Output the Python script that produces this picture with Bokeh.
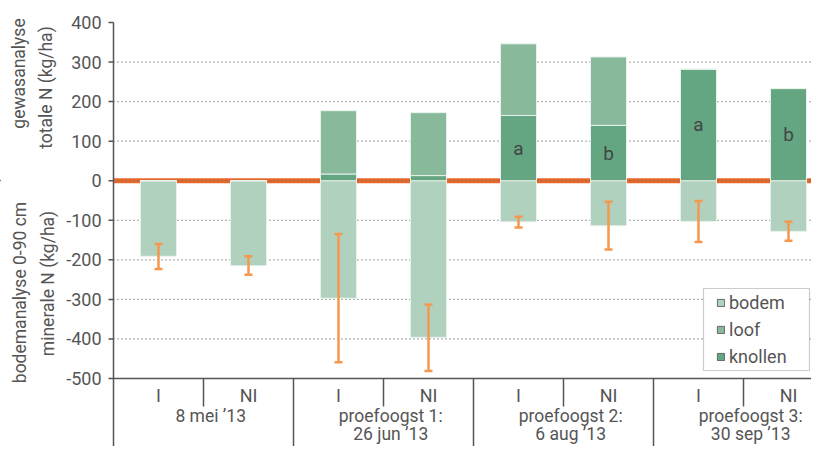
import math
from bokeh.plotting import figure
from bokeh.models import (ColumnDataSource, Range1d, Whisker, TeeHead,
                          Legend, LegendItem, BoxAnnotation)
from bokeh.core.properties import value
from bokeh.embed import file_html
from bokeh.resources import INLINE

# ---- data ----
treatments = ["I", "NI", "I", "NI", "I", "NI", "I", "NI"]
group_line1 = ["8 mei \u201913", "proefoogst 1:", "proefoogst 2:", "proefoogst 3:"]
group_line2 = ["", "26 jun \u201913", "6 aug \u201913", "30 sep \u201913"]
bodem = [191, 215, 297, 396, 104, 114, 103, 128]
loof = [0, 0, 160, 159, 181, 173, 0, 0]
knollen = [0, 0, 17, 13, 165, 140, 282, 233]
err_upper = [-160, -191, -135, -313, -91, -53, -51, -104]
err_lower = [-223, -238, -459, -481, -118, -174, -155, -152]
letters = ["", "", "", "", "a", "b", "a", "b"]
y_ticks = [-500, -400, -300, -200, -100, 0, 100, 200, 300, 400]
y_titles = ["gewasanalyse", "totale N (kg/ha)", "bodemanalyse 0-90 cm", "minerale N (kg/ha)"]

FONT = "Roboto"
TXT = "#555555"
AX = "#555555"

# ---- geometry (pixels) ----
W, H = 811, 446
x0_px = 113          # pixel of the value axis
cat_px = 90          # pixel width of one category
y_top_px, y_bot_px = 22, 378   # pixels of 400 and -500
ppu = (y_bot_px - y_top_px) / 900.0
zero_px = y_top_px + 400 * ppu

def yv(px):
    return (zero_px - px) / ppu

x_start = -x0_px / cat_px
x_end = (W - x0_px) / cat_px
y_end = 400 + y_top_px / ppu
y_start = 400 - (H - y_top_px) / ppu

n = len(treatments)
xc = [i + 0.5 for i in range(n)]
src = ColumnDataSource(dict(
    x=xc,
    bodem_bottom=[-b for b in bodem],
    zero=[0] * n,
    knol_top=knollen,
    loof_top=[k + l for k, l in zip(knollen, loof)],
    up=err_upper, lo=err_lower,
    letter=letters,
    letter_y=[k / 2 for k in knollen],
))

p = figure(width=W, height=H, output_backend="svg", toolbar_location=None,
           x_range=Range1d(x_start, x_end), y_range=Range1d(y_start, y_end),
           x_axis_location=None, y_axis_location=None, min_border=0)
p.outline_line_color = None
p.grid.visible = False

# zero line (orange, under the grid)
p.segment(x0=[0], x1=[x_end], y0=[0], y1=[0], line_color="#e8682a", line_width=5)

# dotted grid
grid_ticks = [t for t in y_ticks if -500 < t < 400]
p.segment(x0=[0] * len(grid_ticks), x1=[x_end] * len(grid_ticks), y0=grid_ticks, y1=grid_ticks,
          line_color="#666666", line_dash="1 3", line_width=1.3)

# bars
c_bodem, c_loof, c_knol = "#b0d1bd", "#88b99b", "#64a682"
edge = "#e8f2ec"
p.vbar(x="x", top="zero", bottom="bodem_bottom", width=0.4, source=src,
       fill_color=c_bodem, line_color=edge, line_width=1)
p.vbar(x="x", top="knol_top", bottom="zero", width=0.4, source=src,
       fill_color=c_knol, line_color=edge, line_width=1)
p.vbar(x="x", top="loof_top", bottom="knol_top", width=0.4, source=src,
       fill_color=c_loof, line_color=edge, line_width=1)

# error bars (on top of the bars)
ec = "#f5984f"
p.add_layout(Whisker(source=src, base="x", upper="up", lower="lo",
                     line_color=ec, line_width=2.5, level="overlay",
                     upper_head=TeeHead(size=8, line_color=ec, line_width=2.5),
                     lower_head=TeeHead(size=8, line_color=ec, line_width=2.5)))

# significance letters
p.text(x="x", y="letter_y", text="letter", source=src, text_align="center",
       text_baseline="middle", text_font=value(FONT), text_font_size="19px",
       text_color="#444444")

# value axis (drawn)
p.segment(x0=[0], x1=[0], y0=[y_start], y1=[400], line_color=AX, line_width=1.5)
p.segment(x0=[0] * len(y_ticks), x1=[-5 / cat_px] * len(y_ticks), y0=y_ticks, y1=y_ticks,
          line_color=AX, line_width=1.5)
p.text(x=[0] * len(y_ticks), y=y_ticks, text=[str(t) for t in y_ticks], x_offset=-12,
       text_align="right", text_baseline="middle", text_font=value(FONT),
       text_font_size="18px", text_color=TXT)

# y titles
p.text(x=[(18.5 - x0_px) / cat_px, (45 - x0_px) / cat_px,
          (19.5 - x0_px) / cat_px, (47 - x0_px) / cat_px],
       y=[yv(73), yv(87), yv(292), yv(283)], text=y_titles,
       angle=math.pi / 2, text_align="center", text_baseline="middle",
       text_font=value(FONT), text_font_size="17.5px", text_color=TXT)

# category axis (drawn)
p.segment(x0=[0], x1=[x_end], y0=[-500], y1=[-500], line_color=AX, line_width=1.5)
p.text(x=xc, y=[yv(395)] * n, text=treatments, text_align="center",
       text_baseline="middle", text_font=value(FONT), text_font_size="18px",
       text_color=TXT)
gx = [2 * g + 1 + 0.08 for g in range(len(group_line1))]
p.text(x=gx, y=[yv(415)] * len(gx), text=group_line1, text_align="center",
       text_baseline="middle", text_font=value(FONT), text_font_size="17.5px",
       text_color=TXT)
p.text(x=gx, y=[yv(433)] * len(gx), text=group_line2, text_align="center",
       text_baseline="middle", text_font=value(FONT), text_font_size="17.5px",
       text_color=TXT)
sub_sep = [2 * g + 1 for g in range(len(group_line1))]
p.segment(x0=sub_sep, x1=sub_sep, y0=[-500] * len(sub_sep), y1=[yv(406)] * len(sub_sep),
          line_color=AX, line_width=1.5)
grp_sep = [2 * g for g in range(1, len(group_line1))]
p.segment(x0=grp_sep, x1=grp_sep, y0=[-500] * len(grp_sep), y1=[y_start] * len(grp_sep),
          line_color=AX, line_width=1.5)

# legend
box = BoxAnnotation(left=703, right=809, bottom=H - 370, top=H - 288,
                    left_units="screen", right_units="screen",
                    bottom_units="screen", top_units="screen",
                    fill_color="white", fill_alpha=1, line_color="#555555",
                    line_width=1.2, level="glyph")
p.add_layout(box)
r_b = p.vbar(x=[-50], top=[1], width=0.4, fill_color=c_bodem, line_color="#666666")
r_l = p.vbar(x=[-50], top=[1], width=0.4, fill_color=c_loof, line_color="#666666")
r_k = p.vbar(x=[-50], top=[1], width=0.4, fill_color=c_knol, line_color="#666666")
leg = Legend(items=[LegendItem(label="bodem", renderers=[r_b]),
                    LegendItem(label="loof", renderers=[r_l]),
                    LegendItem(label="knollen", renderers=[r_k])],
             location=(712, H - 371), orientation="vertical",
             padding=4, spacing=6, label_height=21, glyph_width=9, glyph_height=9,
             label_standoff=4, label_text_font=FONT, label_text_font_size="18px",
             label_text_color=TXT, border_line_alpha=0, background_fill_alpha=0,
             margin=0)
p.add_layout(leg)

open("out.html", "w").write(file_html(p, INLINE))
